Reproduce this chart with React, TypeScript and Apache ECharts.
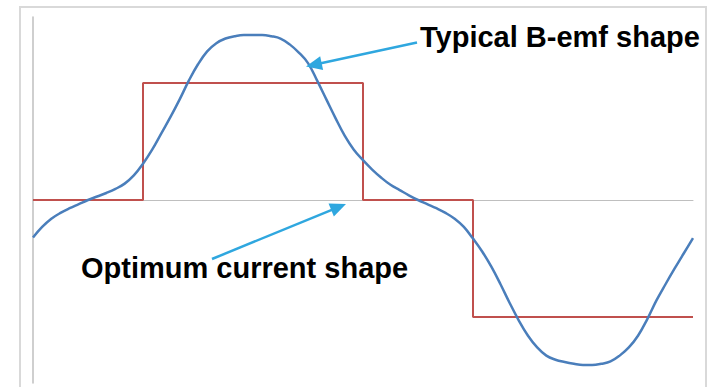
import React, { useEffect, useRef } from "react";
import * as echarts from "echarts";

// electrical angle (degrees), 5° steps
const angles = [
  0, 5, 10, 15, 20, 25, 30, 35, 40, 45, 50, 55, 60, 65, 70, 75, 80, 85, 90, 95, 100, 105, 110, 115, 120,
  125, 130, 135, 140, 145, 150, 155, 160, 165, 170, 175, 180, 185, 190, 195, 200, 205, 210, 215, 220, 225,
  230, 235, 240, 245, 250, 255, 260, 265, 270, 275, 280, 285, 290, 295, 300, 305, 310, 315, 320, 325, 330,
  335, 340, 345, 350, 355, 360,
];
// typical back-emf (normalised)
const bemf = [
  -0.32, -0.23, -0.16, -0.11, -0.07, -0.035, 0.0, 0.03, 0.06, 0.095, 0.14, 0.21, 0.31, 0.43, 0.57, 0.71,
  0.86, 1.02, 1.16, 1.27, 1.34, 1.38, 1.4, 1.41, 1.41, 1.41, 1.4, 1.38, 1.33, 1.26, 1.17, 1.02, 0.86, 0.7,
  0.55, 0.43, 0.34, 0.26, 0.19, 0.13, 0.085, 0.04, 0.0, -0.035, -0.07, -0.11, -0.16, -0.23, -0.33, -0.44,
  -0.57, -0.72, -0.88, -1.03, -1.16, -1.26, -1.33, -1.365, -1.385, -1.4, -1.41, -1.41, -1.4, -1.38, -1.33,
  -1.26, -1.16, -1.02, -0.86, -0.72, -0.585, -0.455, -0.325,
];
// optimum current (step)
const currentAngles = [0, 60, 60, 180, 180, 240, 240, 360];
const currentValues = [0, 0, 1, 1, 0, 0, -1, -1];

const labelEmf = "Typical B-emf shape";
const labelCurrent = "Optimum current shape";

function arrow(x1: number, y1: number, x2: number, y2: number, color: string) {
  const dx = x2 - x1, dy = y2 - y1;
  const len = Math.sqrt(dx * dx + dy * dy);
  const ux = dx / len, uy = dy / len;
  const hl = 16, hw = 7;
  const bx = x2 - ux * hl, by = y2 - uy * hl;
  const nx = -uy, ny = ux;
  return [
    { type: "line", shape: { x1, y1, x2: bx + ux * 2, y2: by + uy * 2 }, style: { stroke: color, lineWidth: 2.5 }, z: 10 },
    {
      type: "polygon",
      shape: { points: [[x2, y2], [bx + nx * hw, by + ny * hw], [bx - nx * hw, by - ny * hw]] },
      style: { fill: color },
      z: 10,
    },
  ];
}

export default function App() {
  const ref = useRef<HTMLDivElement>(null);
  useEffect(() => {
    if (!ref.current) return;
    const chart = echarts.init(ref.current, undefined, { renderer: "svg" });
    const arrowColor = "#2fa7df";
    const font = "bold 29px 'Liberation Sans', Arial, sans-serif";
    chart.setOption({
      animation: false,
      backgroundColor: "#ffffff",
      grid: { left: 33, right: 22, top: 17, bottom: 4 },
      xAxis: {
        type: "value",
        min: 0,
        max: 360,
        axisLine: { onZero: true, lineStyle: { color: "#bfbfbf", width: 1 } },
        axisTick: { show: false },
        axisLabel: { show: false },
        splitLine: { show: false },
      },
      yAxis: {
        type: "value",
        min: -1.564,
        max: 1.564,
        axisLine: { show: true, lineStyle: { color: "#bfbfbf", width: 1.5 } },
        axisTick: { show: false },
        axisLabel: { show: false },
        splitLine: { show: false },
      },
      series: [
        {
          type: "line",
          data: currentAngles.map((a, i) => [a, currentValues[i]]),
          showSymbol: false,
          lineStyle: { color: "#c0504d", width: 2 },
          z: 2,
        },
        {
          type: "line",
          data: angles.map((a, i) => [a, bemf[i]]),
          smooth: 0.4,
          showSymbol: false,
          lineStyle: { color: "#4a7ebb", width: 2.5 },
          z: 3,
        },
      ],
      graphic: [
        {
          type: "rect",
          shape: { x: 20, y: 7, width: 686, height: 400 },
          style: { fill: "none", stroke: "#d9d9d9", lineWidth: 2 },
          silent: true,
        },
        ...arrow(417, 42.5, 306, 66.5, arrowColor),
        ...arrow(212, 259, 346, 204, arrowColor),
        {
          type: "text",
          x: 420,
          y: 37,
          style: { text: labelEmf, font, fill: "#000000", textAlign: "left", textVerticalAlign: "middle" },
          z: 11,
        },
        {
          type: "text",
          x: 81,
          y: 268,
          style: { text: labelCurrent, font, fill: "#000000", textAlign: "left", textVerticalAlign: "middle" },
          z: 11,
        },
      ],
    });
    return () => chart.dispose();
  }, []);
  return <div ref={ref} style={{ position: "absolute", left: 0, top: 0, width: 715, height: 387 }} />;
}
